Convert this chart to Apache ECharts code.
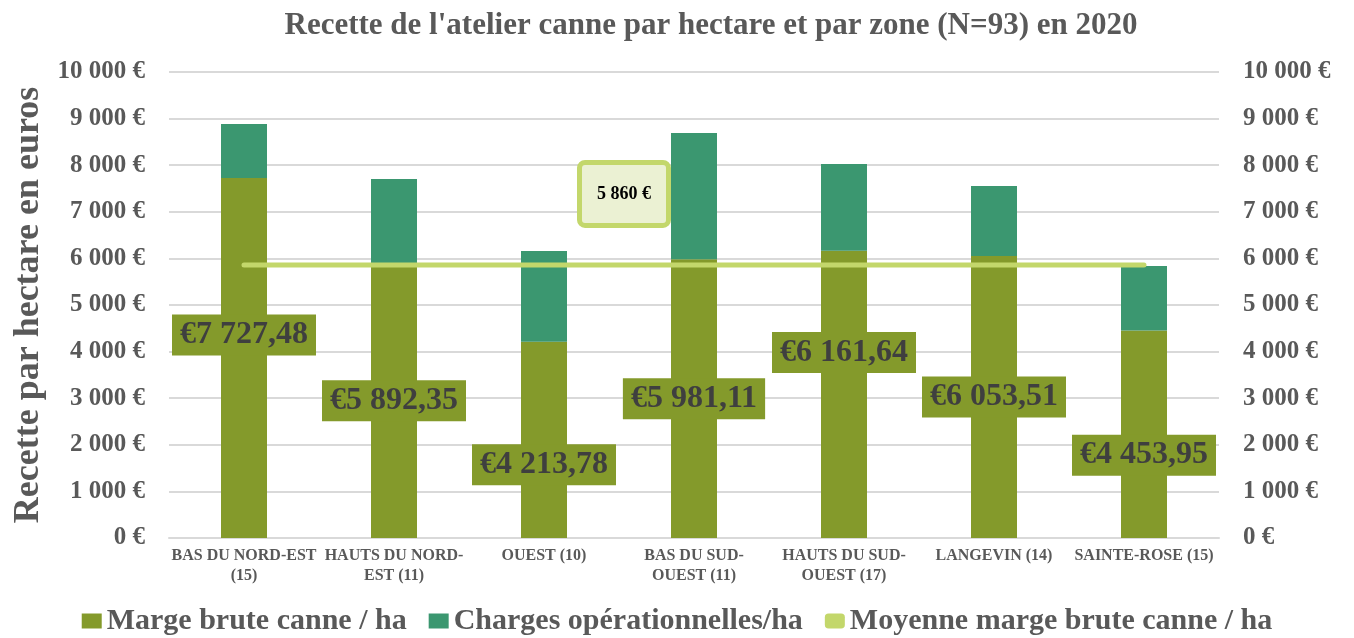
<!DOCTYPE html>
<html>
<head>
<meta charset="utf-8">
<script src="https://cdn.jsdelivr.net/npm/echarts@6/dist/echarts.min.js"></script>
<style>
  html, body { margin: 0; padding: 0; background: #fff; }
  #chart { width: 1354px; height: 638px; }
</style>
</head>
<body>
<div id="chart"></div>
<script>
  var zones = ['BAS DU NORD-EST\n(15)', 'HAUTS DU NORD-\nEST (11)', 'OUEST (10)', 'BAS DU SUD-\nOUEST (11)',
    'HAUTS DU SUD-\nOUEST (17)', 'LANGEVIN (14)', 'SAINTE-ROSE (15)'];
  var margeBrute = [7727.48, 5892.35, 4213.78, 5981.11, 6161.64, 6053.51, 4453.95];
  var charges = [1157, 1812, 1945, 2710, 1864, 1500, 1383];
  var moyenne = 5860;
  var yTicks = [0, 1000, 2000, 3000, 4000, 5000, 6000, 7000, 8000, 9000, 10000];

  // labels were moved by hand in the original
  var labelShift = [-23, 0, 25, 0, -42, 0, 21];

  var olive = '#849A2B';
  var teal = '#3B9770';
  var light = '#C3D76B';
  var grey = '#595959';
  var serif = '"Liberation Serif", "DejaVu Serif", serif';

  function euro(v) {
    return String(v).replace(/\B(?=(\d{3})+(?!\d))/g, ' ') + ' €';
  }
  function euroLabel(v) {
    var s = v.toFixed(2).split('.');
    return '€' + s[0].replace(/\B(?=(\d{3})+(?!\d))/g, ' ') + ',' + s[1];
  }

  var chart = echarts.init(document.getElementById('chart'));

  var axisLabel = {
    fontFamily: serif, fontWeight: 'bold', fontSize: 25, color: grey,
    formatter: function (v) { return euro(v); }
  };

  chart.setOption({
    animation: false,
    title: {
      text: "Recette de l'atelier canne par hectare et par zone (N=93) en 2020",
      left: 706, top: 5, textAlign: 'center',
      textStyle: { fontFamily: serif, fontWeight: 'bold', fontSize: 31, color: grey }
    },
    grid: { left: 169, right: 135, top: 72, bottom: 100, containLabel: false },
    legend: {
      bottom: -3, left: 'center', itemGap: 22, itemWidth: 20, itemHeight: 15,
      textStyle: { fontFamily: serif, fontWeight: 'bold', fontSize: 30, color: grey },
      data: [
        { name: 'Marge brute canne / ha', icon: 'rect' },
        { name: 'Charges opérationnelles/ha', icon: 'rect' },
        { name: 'Moyenne marge brute canne / ha', icon: 'roundRect', itemStyle: { color: light } }
      ]
    },
    xAxis: {
      type: 'category',
      data: zones,
      axisTick: { show: false },
      axisLine: { lineStyle: { color: '#D9D9D9', width: 2 } },
      axisLabel: {
        interval: 0, fontFamily: serif, fontWeight: 'bold', fontSize: 16, color: grey,
        lineHeight: 20, margin: 8
      }
    },
    yAxis: [
      {
        type: 'value', min: 0, max: 10000, interval: 1000,
        name: 'Recette par hectare en euros', nameLocation: 'middle', nameGap: 122,
        nameTextStyle: { fontFamily: serif, fontWeight: 'bold', fontSize: 36, color: grey },
        axisLabel: Object.assign({ margin: 24 }, axisLabel),
        splitLine: { lineStyle: { color: '#D9D9D9', width: 2 } }
      },
      {
        type: 'value', min: 0, max: 10000, interval: 1000, position: 'right',
        axisLabel: Object.assign({ margin: 24 }, axisLabel),
        splitLine: { show: false }
      }
    ],
    series: [
      {
        name: 'Marge brute canne / ha', type: 'bar', stack: 'total', barWidth: 46,
        itemStyle: { color: olive },
        data: margeBrute.map(function (v, i) {
          return {
            value: v,
            label: {
              show: true, position: 'inside', offset: [0, labelShift[i]],
              formatter: euroLabel(v),
              fontFamily: serif, fontWeight: 'bold', fontSize: 32, color: '#3F3F3F',
              backgroundColor: olive, padding: [5, 8, 4, 8]
            }
          };
        })
      },
      {
        name: 'Charges opérationnelles/ha', type: 'bar', stack: 'total', barWidth: 46,
        itemStyle: { color: teal },
        data: charges
      },
      {
        name: 'Moyenne marge brute canne / ha', type: 'line',
        symbol: 'circle', symbolSize: 1, showSymbol: true, z: 5,
        lineStyle: { color: light, width: 5, cap: 'round' },
        itemStyle: { color: light },
        data: zones.map(function (z, i) {
          var d = { value: moyenne };
          if (i === 3) {
            d.label = {
              show: true, position: 'inside', offset: [-70, -71],
              formatter: euro(moyenne),
              fontFamily: serif, fontWeight: 'bold', fontSize: 18, color: '#000',
              backgroundColor: '#EBF1D3', borderColor: light, borderWidth: 5,
              borderRadius: 3, width: 84, height: 58, lineHeight: 58, align: 'center'
            };
          }
          return d;
        })
      }
    ]
  });
</script>
</body>
</html>
